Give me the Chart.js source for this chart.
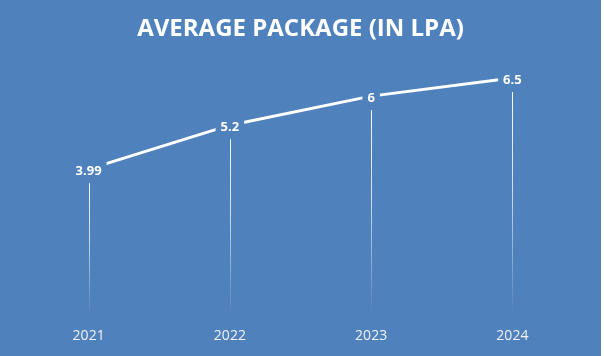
<!DOCTYPE html>
<html>
<head>
<meta charset="utf-8">
<script src="https://cdn.jsdelivr.net/npm/chart.js@4/dist/chart.umd.min.js"></script>
<style>
html,body{margin:0;padding:0;background:#ffffff;}
#wrap{position:absolute;left:0;top:0;width:601px;height:356px;background:#4F81BD;}
</style>
</head>
<body>
<div id="wrap"><canvas id="c" width="601" height="356"></canvas></div>
<script>
const title = 'AVERAGE PACKAGE (IN LPA)';
const years = ['2021', '2022', '2023', '2024'];
const packages = [3.99, 5.2, 6, 6.5];
const labelTexts = ['3.99', '5.2', '6', '6.5'];

const BG = '#4F81BD';

const dropLines = {
  id: 'dropLines',
  beforeDatasetsDraw(chart) {
    const ctx = chart.ctx;
    const meta = chart.getDatasetMeta(0);
    const y0 = chart.scales.y.getPixelForValue(0);
    ctx.save();
    meta.data.forEach(pt => {
      const g = ctx.createLinearGradient(0, pt.y, 0, y0 + 2);
      g.addColorStop(0, 'rgba(255,255,255,1)');
      g.addColorStop(0.45, 'rgba(255,255,255,0.75)');
      g.addColorStop(1, 'rgba(255,255,255,0)');
      ctx.strokeStyle = g;
      ctx.lineWidth = 1;
      ctx.beginPath();
      const x = Math.round(pt.x) + 0.5;
      ctx.moveTo(x, pt.y);
      ctx.lineTo(x, y0 + 2);
      ctx.stroke();
    });
    ctx.restore();
  }
};

const valueLabels = {
  id: 'valueLabels',
  afterDatasetsDraw(chart) {
    const ctx = chart.ctx;
    const meta = chart.getDatasetMeta(0);
    ctx.save();
    ctx.font = 'bold 13px "Open Sans", sans-serif';
    ctx.textAlign = 'center';
    ctx.textBaseline = 'middle';
    meta.data.forEach((pt, i) => {
      const t = labelTexts[i];
      const w = ctx.measureText(t).width;
      const cx = pt.x, cy = pt.y + 2;
      ctx.fillStyle = BG;
      ctx.fillRect(cx - w / 2 - 5, cy - 9, w + 10, 21);
      ctx.fillStyle = '#ffffff';
      ctx.fillText(t, cx, cy);
    });
    ctx.restore();
  }
};

new Chart(document.getElementById('c'), {
  type: 'line',
  data: {
    labels: years,
    datasets: [{
      data: packages,
      borderColor: '#ffffff',
      borderWidth: 3,
      pointRadius: 0,
      tension: 0,
      fill: false
    }]
  },
  options: {
    responsive: false,
    animation: false,
    devicePixelRatio: 1,
    layout: { padding: { left: 18, right: 18, top: 0, bottom: 0 } },
    plugins: {
      legend: { display: false },
      tooltip: { enabled: false },
      title: {
        display: true,
        text: title,
        color: '#ffffff',
        font: { family: '"Open Sans", sans-serif', size: 24, weight: 'bold' },
        padding: { top: 15, bottom: 16 }
      }
    },
    scales: {
      x: {
        offset: true,
        grid: { display: false, drawTicks: true, tickLength: 2 },
        border: { display: false },
        ticks: {
          color: '#f2f2f2',
          font: { family: '"Open Sans", sans-serif', size: 14 },
          padding: 11.6
        }
      },
      y: {
        display: false,
        min: 0,
        max: 7
      }
    }
  },
  plugins: [dropLines, valueLabels]
});
</script>
</body>
</html>
